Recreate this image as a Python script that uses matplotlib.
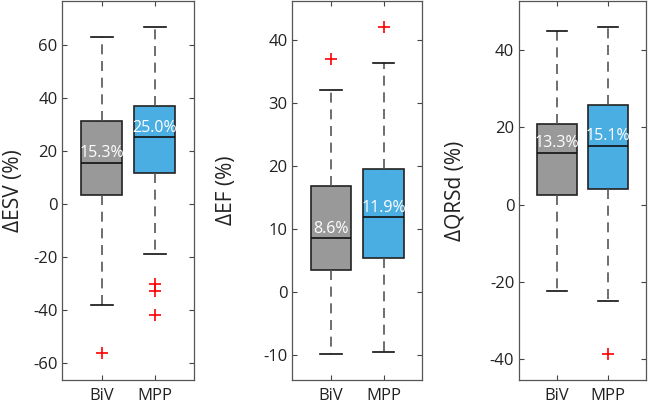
import matplotlib
matplotlib.use("Agg")
import matplotlib.pyplot as plt

plt.rcParams['font.family'] = ['Open Sans', 'DejaVu Sans']
plt.rcParams['axes.unicode_minus'] = False

groups = ["BiV", "MPP"]
ylabels = ["\u0394ESV (%)", "\u0394EF (%)", "\u0394QRSd (%)"]

# per panel: [BiV, MPP] -> (whislo, q1, med, q3, whishi, fliers)
esv_whislo = [-38.3, -18.9]
esv_q1 = [3.2, 11.4]
esv_med = [15.3, 25.0]
esv_q3 = [31.2, 37.0]
esv_whishi = [62.9, 66.7]
esv_fliers = [[-56.5], [-30.3, -33.0, -41.9]]

ef_whislo = [-9.7, -9.5]
ef_q1 = [3.6, 5.5]
ef_med = [8.6, 11.9]
ef_q3 = [16.9, 19.6]
ef_whishi = [32.2, 36.4]
ef_fliers = [[37.1], [42.1]]

qrs_whislo = [-22.4, -25.0]
qrs_q1 = [2.4, 4.0]
qrs_med = [13.3, 15.1]
qrs_q3 = [20.8, 25.8]
qrs_whishi = [44.8, 46.0]
qrs_fliers = [[], [-38.6]]

yticks = [[-60, -40, -20, 0, 20, 40, 60], [-10, 0, 10, 20, 30, 40], [-40, -20, 0, 20, 40]]
ylims = [(-66.5, 76.5), (-13.9, 46.3), (-45.4, 52.7)]

panels = [
    (esv_whislo, esv_q1, esv_med, esv_q3, esv_whishi, esv_fliers),
    (ef_whislo, ef_q1, ef_med, ef_q3, ef_whishi, ef_fliers),
    (qrs_whislo, qrs_q1, qrs_med, qrs_q3, qrs_whishi, qrs_fliers),
]

colors = ["#999999", "#4AAEE3"]
lefts = [0.096, 0.4504, 0.800]
widths = [0.203, 0.2003, 0.195]
label_x = [24, 237, 466]

fig = plt.figure(figsize=(6.49, 4.04), dpi=100)
for i, (wl, q1, md, q3, wh, fl) in enumerate(panels):
    ax = fig.add_axes([lefts[i], 0.0594, widths[i], 0.9386])
    stats = []
    for j in range(2):
        stats.append(dict(whislo=wl[j], q1=q1[j], med=md[j], q3=q3[j],
                          whishi=wh[j], fliers=fl[j], label=groups[j]))
    bp = ax.bxp(stats, positions=[1, 2], widths=0.77, capwidths=0.41,
                patch_artist=True, showfliers=True,
                boxprops=dict(edgecolor="#222222", linewidth=1.2),
                medianprops=dict(color="#111111", linewidth=1.2),
                whiskerprops=dict(color="#555555", linewidth=1.2, linestyle=(0, (6, 4))),
                capprops=dict(color="#111111", linewidth=1.2),
                flierprops=dict(marker="+", markeredgecolor="red", markersize=8,
                                markeredgewidth=1.2, linestyle="none"))
    for p, c in zip(bp["boxes"], colors):
        p.set_facecolor(c)
    for j in range(2):
        ax.annotate(f"{md[j]:.1f}%", xy=(j + 1, md[j]), xytext=(0, 1.2),
                    textcoords="offset points", ha="center", va="bottom",
                    color="white", fontsize=11.5)
    ax.set_xlim(0.26, 2.74)
    ax.set_ylim(*ylims[i])
    ax.set_yticks(yticks[i])
    ax.set_xticks([1, 2])
    ax.set_xticklabels(groups)
    ax.tick_params(direction="in", length=3.5, top=True, right=True,
                   labelsize=12, colors="#444444", labelcolor="#222222", width=0.8)
    ax.tick_params(axis="x", pad=6)
    for s in ax.spines.values():
        s.set_color("#555555")
        s.set_linewidth(0.9)
    ax.set_ylabel(ylabels[i], fontsize=15, color="#222222")
    x_axes = (label_x[i] / 649 - lefts[i]) / widths[i]
    ax.yaxis.set_label_coords(x_axes, 0.5)

fig.savefig("out.png", dpi=100)
